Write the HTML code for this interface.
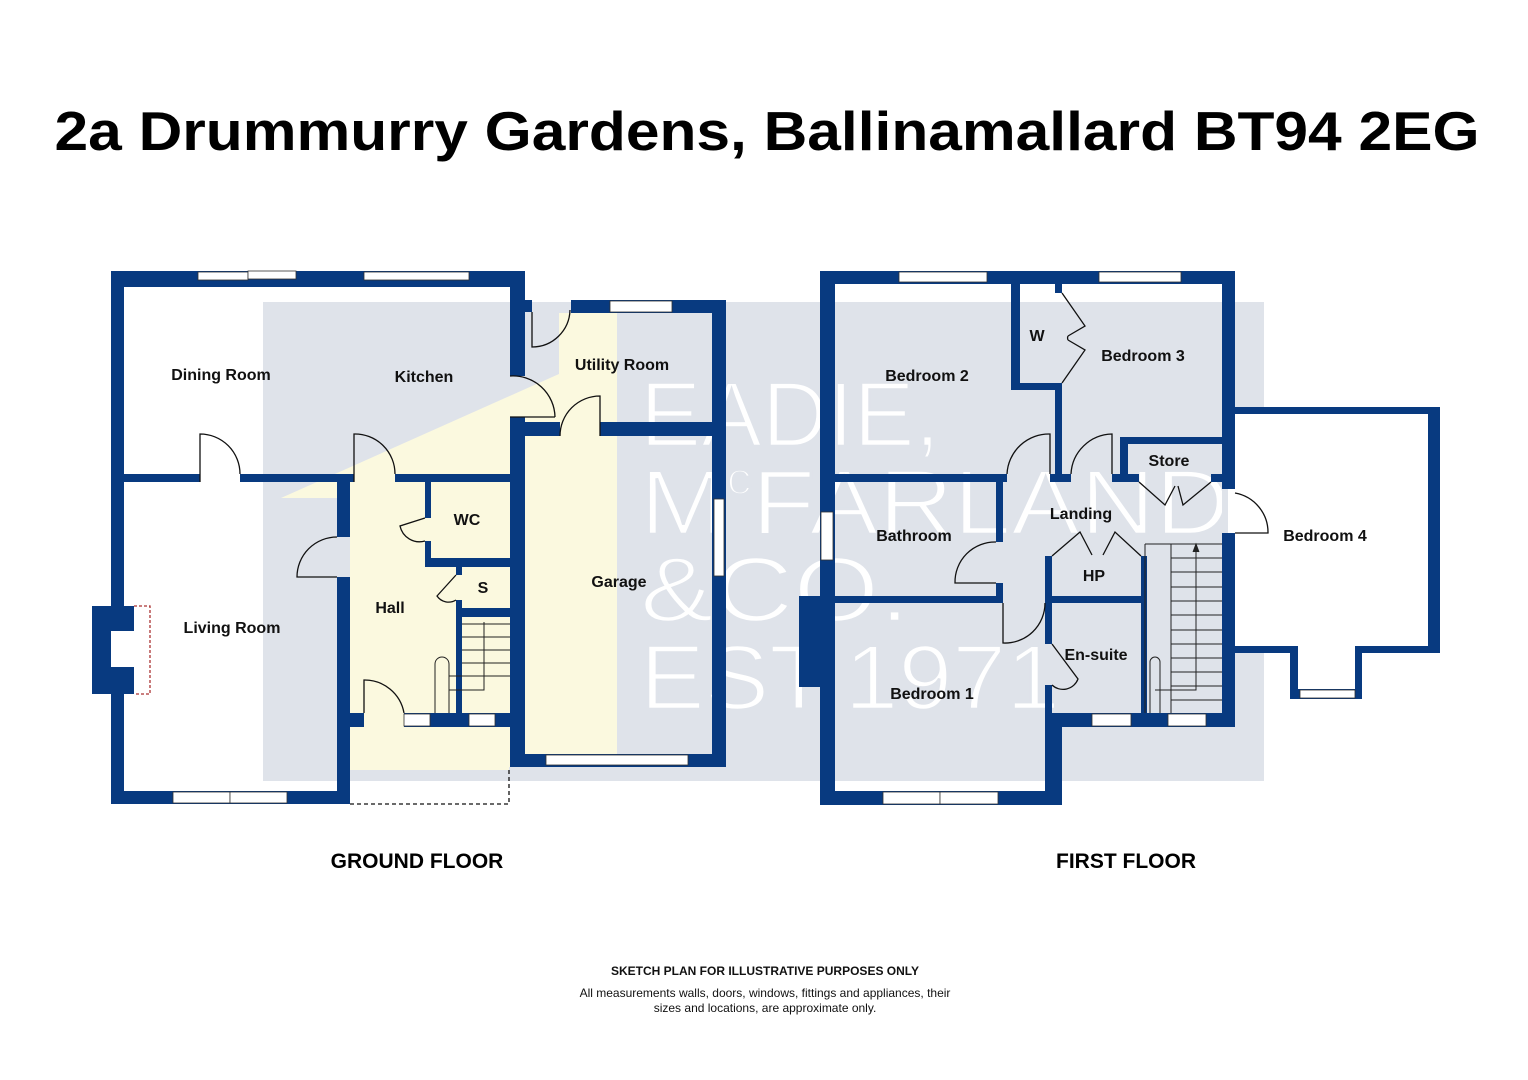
<!DOCTYPE html>
<html><head><meta charset="utf-8"><style>
html,body{margin:0;padding:0;background:#fff;width:1528px;height:1080px;overflow:hidden}
svg{display:block}
text{font-family:"Liberation Sans",Arial,sans-serif}
.l{font-size:16px;font-weight:bold;fill:#111}
</style></head><body>
<svg width="1528" height="1080" viewBox="0 0 1528 1080" xmlns="http://www.w3.org/2000/svg">
<rect width="1528" height="1080" fill="#fff"/>
<text x="767" y="150" text-anchor="middle" font-size="55" font-weight="bold" fill="#000" textLength="1425" lengthAdjust="spacingAndGlyphs">2a Drummurry Gardens, Ballinamallard BT94 2EG</text>

<rect x="263" y="302" width="1001" height="479" fill="#dfe3ea"/>
<rect x="1235" y="414" width="193" height="232" fill="#fff"/>
<rect x="1298" y="646" width="57" height="45" fill="#fff"/>
<polygon points="281,498 559,374 559,313 617,313 617,767 509,767 509,770 350,770 350,498" fill="#fbf9df"/>
<rect x="350" y="727" width="159" height="43" fill="#fbf9df"/>

<g fill="#fff" stroke="#dfe3ea" stroke-width="2.5" font-size="92" font-family="Liberation Sans, sans-serif">
<text x="640" y="446" textLength="300" lengthAdjust="spacingAndGlyphs">EADIE,</text>
<text x="640" y="534" textLength="590" lengthAdjust="spacingAndGlyphs">M<tspan font-size="45" dy="-40">c</tspan><tspan dy="40">FARLAND</tspan></text>
<text x="640" y="621" textLength="270" lengthAdjust="spacingAndGlyphs">&amp;CO.</text>
<text x="640" y="709" textLength="420" lengthAdjust="spacingAndGlyphs">EST.1971</text>
</g>

<g fill="#083a80">
<rect x="111" y="271" width="13" height="533"/>
<rect x="111" y="271" width="414" height="16"/>
<rect x="510" y="271" width="15" height="105"/>
<rect x="510" y="300" width="22" height="12"/>
<rect x="510" y="417" width="15" height="350"/>
<rect x="571" y="300" width="155" height="13"/>
<rect x="712" y="300" width="14" height="467"/>
<rect x="510" y="422" width="50" height="14"/>
<rect x="600" y="422" width="126" height="14"/>
<rect x="510" y="754" width="216" height="13"/>
<rect x="124" y="474" width="76" height="8"/>
<rect x="240" y="474" width="114" height="8"/>
<rect x="395" y="474" width="115" height="8"/>
<rect x="337" y="482" width="13" height="55"/>
<rect x="337" y="577" width="13" height="227"/>
<rect x="111" y="791" width="239" height="13"/>
<rect x="337" y="713" width="27" height="14"/>
<rect x="404" y="713" width="106" height="14"/>
<rect x="425" y="482" width="6" height="36"/>
<rect x="425" y="541" width="6" height="26"/>
<rect x="425" y="558" width="85" height="9"/>
<rect x="456" y="567" width="6" height="8"/>
<rect x="456" y="600" width="6" height="113"/>
<rect x="456" y="608" width="54" height="9"/>
<rect x="92" y="606" width="42" height="88"/>
<rect x="820" y="271" width="15" height="534"/>
<rect x="820" y="271" width="415" height="13"/>
<rect x="1222" y="271" width="13" height="455"/>
<rect x="1011" y="284" width="9" height="106"/>
<rect x="1011" y="383" width="51" height="7"/>
<rect x="1055" y="284" width="7" height="9"/>
<rect x="1055" y="383" width="7" height="99"/>
<rect x="835" y="474" width="172" height="8"/>
<rect x="1050" y="474" width="21" height="8"/>
<rect x="1120" y="437" width="8" height="45"/>
<rect x="1120" y="437" width="102" height="7"/>
<rect x="1112" y="474" width="27" height="8"/>
<rect x="1211" y="474" width="11" height="8"/>
<rect x="996" y="474" width="7" height="68"/>
<rect x="996" y="583" width="7" height="20"/>
<rect x="835" y="596" width="168" height="7"/>
<rect x="1045" y="556" width="7" height="88"/>
<rect x="1045" y="685" width="7" height="120"/>
<rect x="1141" y="556" width="6" height="170"/>
<rect x="1045" y="596" width="96" height="7"/>
<rect x="1045" y="713" width="190" height="14"/>
<rect x="820" y="791" width="242" height="14"/>
<rect x="1047" y="713" width="15" height="92"/>
<rect x="799" y="596" width="21" height="91"/>
<rect x="1235" y="407" width="205" height="7"/>
<rect x="1428" y="407" width="12" height="246"/>
<rect x="1355" y="646" width="85" height="7"/>
<rect x="1355" y="646" width="7" height="53"/>
<rect x="1290" y="646" width="8" height="53"/>
<rect x="1235" y="646" width="63" height="7"/>
<rect x="1290" y="689" width="72" height="10"/>
</g>
<rect x="1222" y="489" width="13" height="44" fill="#fff"/>
<rect x="1222" y="489" width="6" height="44" fill="#dfe3ea"/>

<g fill="#fff" stroke="#333" stroke-width="0.8">
<rect x="198" y="272" width="50" height="8"/><rect x="248" y="271" width="48" height="8"/>
<rect x="364" y="272" width="105" height="8"/>
<rect x="610" y="301" width="62" height="11"/>
<rect x="714" y="499" width="10" height="77"/>
<rect x="546" y="755" width="142" height="10"/>
<rect x="173" y="792" width="57" height="11"/><rect x="230" y="792" width="57" height="11"/>
<rect x="404" y="714" width="26" height="12"/><rect x="469" y="714" width="26" height="12"/>
<rect x="899" y="272" width="88" height="10"/>
<rect x="1099" y="272" width="82" height="10"/>
<rect x="821" y="512" width="12" height="48"/>
<rect x="883" y="792" width="57" height="12"/><rect x="940" y="792" width="58" height="12"/>
<rect x="1092" y="714" width="39" height="12"/><rect x="1168" y="714" width="38" height="12"/>
<rect x="1300" y="690" width="55" height="8"/>
</g>

<g fill="none" stroke="#111" stroke-width="1.3">
<path d="M200 482 V434 A40 40 0 0 1 240 474"/>
<path d="M354 482 V434 A40 40 0 0 1 395 474"/>
<path d="M510 376 A42 42 0 0 1 555 417 M510 417 H555"/>
<path d="M560 436 A40 40 0 0 1 600 396 V436"/>
<path d="M532 312 V347 A38 38 0 0 0 570 310"/>
<path d="M337 537 A40 40 0 0 0 297 577 H337"/>
<path d="M364 713 V680 A40 40 0 0 1 404 713"/>
<path d="M425 518 L400 526 A20 20 0 0 0 425 541"/>
<path d="M456 575 L437 596 A14 14 0 0 0 456 600"/>
<path d="M1007 474 A42 42 0 0 1 1050 434 V474"/>
<path d="M1071 474 A42 42 0 0 1 1112 434 V474"/>
<path d="M996 542 A40 40 0 0 0 955 583 H996"/>
<path d="M1003 603 V643 A40 40 0 0 0 1045 603"/>
<path d="M1052 644 L1078 679 A16 16 0 0 1 1052 685"/>
<path d="M1235 493 A40 40 0 0 1 1268 533 H1235"/>
<path d="M1062 293 L1085 326 L1068 336 M1062 383 L1085 350 L1068 340 M1068 336 A3 4 0 0 0 1068 340"/>
<path d="M1139 482 L1165 505 L1175 486 M1211 482 L1183 505 L1178 486"/>
<path d="M1052 556 L1080 532 L1092 555 M1141 556 L1115 532 L1103 555"/>
<path d="M134 606 H150 V694 H134" stroke-dasharray="3,2" stroke="#a33"/>
<path d="M350 804 H509 V767" stroke-dasharray="4,3"/>
</g>
<rect x="111" y="631" width="23" height="36" fill="#fff"/>

<g fill="none" stroke="#222" stroke-width="1">
<path d="M462 624 H510 M462 637 H510 M462 650 H510 M462 663 H510 M462 676 H510"/>
<path d="M435 713 V664 A7 7 0 0 1 449 664 V713 M449 676 H462 M484 622 V690 H449"/>
<path d="M1145 544 H1171 V713 M1145 544 V713 M1171 544 H1222"/>
<path d="M1171 558 H1222 M1171 572 H1222 M1171 587 H1222 M1171 601 H1222 M1171 615 H1222 M1171 630 H1222 M1171 644 H1222 M1171 658 H1222 M1171 672 H1222 M1171 686 H1222 M1171 700 H1222"/>
<path d="M1196 545 V690 H1155 M1150 713 V662 A5 5 0 0 1 1160 662 V713"/>
<path d="M1193 552 L1196 544 L1199 552" fill="#222"/>
</g>

<text class="l" x="221" y="380" text-anchor="middle">Dining Room</text>
<text class="l" x="424" y="382" text-anchor="middle">Kitchen</text>
<text class="l" x="622" y="370" text-anchor="middle">Utility Room</text>
<text class="l" x="467" y="525" text-anchor="middle">WC</text>
<text class="l" x="483" y="593" text-anchor="middle">S</text>
<text class="l" x="390" y="613" text-anchor="middle">Hall</text>
<text class="l" x="619" y="587" text-anchor="middle">Garage</text>
<text class="l" x="232" y="633" text-anchor="middle">Living Room</text>
<text class="l" x="927" y="381" text-anchor="middle" font-size="15">Bedroom 2</text>
<text class="l" x="1037" y="341" text-anchor="middle" font-size="15">W</text>
<text class="l" x="1143" y="361" text-anchor="middle" font-size="15">Bedroom 3</text>
<text class="l" x="1169" y="466" text-anchor="middle" font-size="15">Store</text>
<text class="l" x="1081" y="519" text-anchor="middle" font-size="15">Landing</text>
<text class="l" x="914" y="541" text-anchor="middle" font-size="15">Bathroom</text>
<text class="l" x="1325" y="541" text-anchor="middle" font-size="15">Bedroom 4</text>
<text class="l" x="1094" y="581" text-anchor="middle" font-size="15">HP</text>
<text class="l" x="1096" y="660" text-anchor="middle" font-size="15">En-suite</text>
<text class="l" x="932" y="699" text-anchor="middle" font-size="15">Bedroom 1</text>

<text x="417" y="868" text-anchor="middle" font-size="21" font-weight="bold" fill="#000">GROUND FLOOR</text>
<text x="1126" y="868" text-anchor="middle" font-size="21" font-weight="bold" fill="#000">FIRST FLOOR</text>
<text x="765" y="975" text-anchor="middle" font-size="12" font-weight="bold" fill="#111">SKETCH PLAN FOR ILLUSTRATIVE PURPOSES ONLY</text>
<text x="765" y="997" text-anchor="middle" font-size="12" fill="#111">All measurements walls, doors, windows, fittings and appliances, their</text>
<text x="765" y="1012" text-anchor="middle" font-size="12" fill="#111">sizes and locations, are approximate only.</text>
</svg>
</body></html>
